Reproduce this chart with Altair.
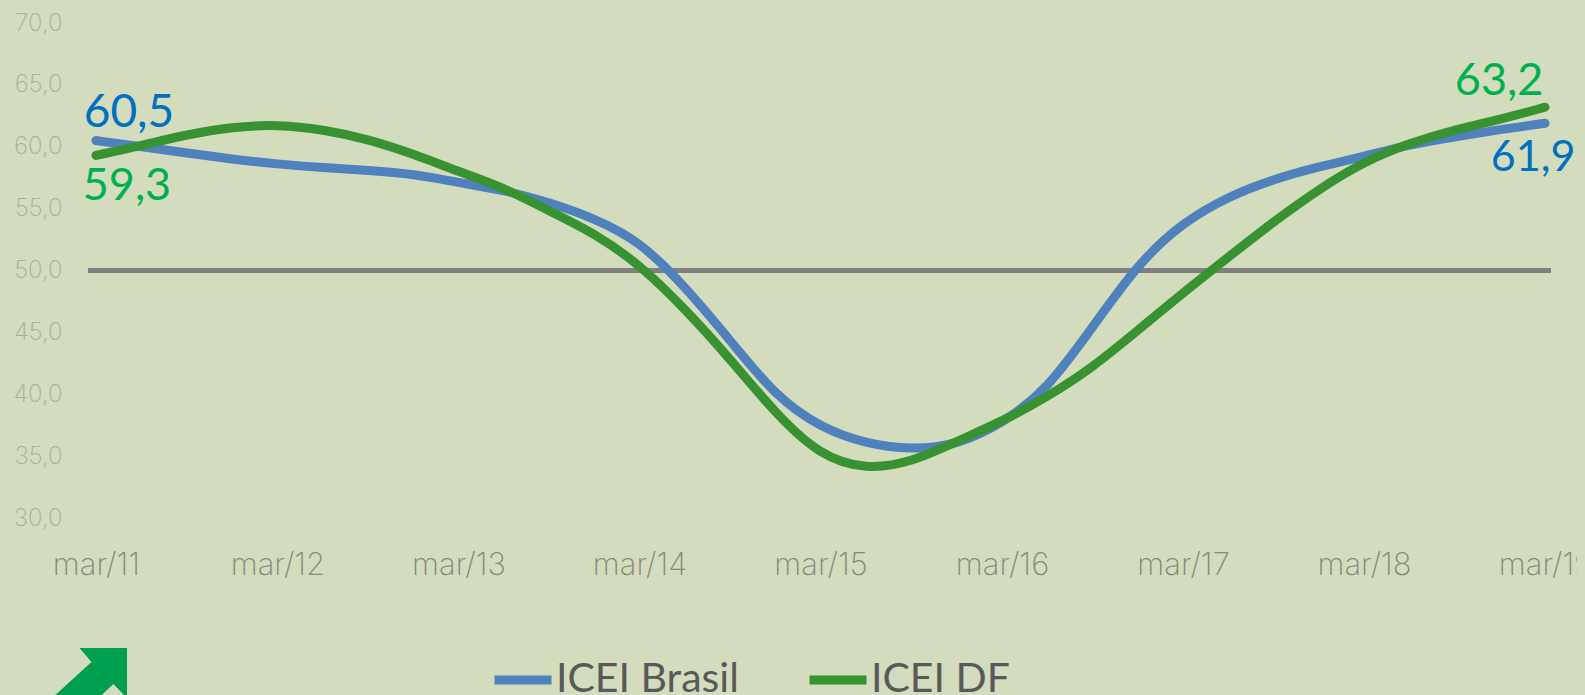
import altair as alt
import pandas as pd

BG = "#d3dcbd"
dates = [f"{2011 + i // 4}-{[3, 6, 9, 12][i % 4]:02d}-01T00:00:00" for i in range(33)]
brasil = [60.5, 60.0, 59.5, 59.0, 58.6, 58.3, 58.1, 57.8, 57.1, 56.5, 55.5, 54.2, 52.4, 48.7, 44.3, 39.8, 37.3,
          36.0, 35.5, 35.9, 37.6, 40.4, 45.5, 50.6, 53.9, 56.0, 57.4, 58.4, 59.2, 60.2, 60.8, 61.4, 61.9]
df_vals = [59.3, 60.1, 61.0, 61.6, 61.8, 61.4, 60.6, 59.4, 58.0, 56.7, 54.8, 53.0, 50.5, 46.9, 42.8, 38.4, 35.0,
           33.9, 34.5, 36.2, 37.8, 39.8, 42.2, 45.2, 48.2, 51.1, 54.0, 56.6, 58.8, 60.3, 61.4, 62.2, 63.2]
series_names = ["ICEI Brasil", "ICEI DF"]
series_colors = ["#4f81bd", "#389232"]
years = list(range(2011, 2020))
y_ticks = [30, 35, 40, 45, 50, 55, 60, 65, 70]

data = pd.DataFrame({
    "date": dates * 2,
    "valor": brasil + df_vals,
    "serie": [series_names[0]] * 33 + [series_names[1]] * 33,
})

x_enc = alt.X(
    "date:T",
    scale=alt.Scale(domain=["2011-02-13T00:00:00", "2019-03-13T00:00:00"]),
    axis=alt.Axis(
        values=[alt.DateTime(year=y, month=3, date=1) for y in years],
        format="mar/%y", formatType="time", title=None, domain=False, ticks=False, grid=False,
        labelFont="Inter", labelFontWeight=200, labelFontSize=31, labelColor="#858a7a",
        labelPadding=32, labelOverlap=False, labelFlush=False, labelBound=False,
    ),
)
y_enc = alt.Y(
    "valor:Q",
    scale=alt.Scale(domain=[30, 70], nice=False, zero=False),
    axis=alt.Axis(
        values=y_ticks, title=None, domain=False, ticks=False, grid=False,
        labelExpr="replace(format(datum.value, '.1f'), '.', ',')",
        labelFont="Inter", labelFontWeight=200, labelFontSize=24, labelColor="#a9af99",
        labelPadding=26, labelOverlap=False, labelBound=False, labelFlush=False,
    ),
)

lines = alt.Chart(data).mark_line(strokeWidth=9, strokeCap="round", interpolate="basis", clip=False).encode(
    x=x_enc,
    y=y_enc,
    color=alt.Color(
        "serie:N",
        scale=alt.Scale(domain=series_names, range=series_colors),
        legend=alt.Legend(
            title=None, orient="none", direction="horizontal", legendX=402, legendY=624,
            symbolType="stroke", symbolSize=3249, symbolStrokeWidth=9, symbolOpacity=1,
            labelFont="Lato", labelFontSize=41, labelColor="#595959", labelOffset=0, labelLimit=400,
            columns=2, columnPadding=52, symbolOffset=0, padding=0,
        ),
    ),
    order=alt.Order("serie:N"),
)

rule = alt.Chart(pd.DataFrame({"y": [50]})).mark_rule(color="#7f7f7f", strokeWidth=5).encode(y=alt.Y("y:Q"))

lab_data = pd.DataFrame({
    "date": [dates[0], dates[0], dates[-1], dates[-1]],
    "valor": [brasil[0], df_vals[0], df_vals[-1], brasil[-1]],
    "txt": ["60,5", "59,3", "63,2", "61,9"],
})
label_styles = [(33, -28, "#0070c0", 46), (31, 31, "#00b050", 45), (-46, -26, "#00b050", 45), (-12, 35, "#0070c0", 43)]
labels = [
    alt.Chart(lab_data.iloc[[i]]).mark_text(font="Lato", fontSize=fs, dx=dx, dy=dy, color=c, align="center",
                                            baseline="middle").encode(
        x=alt.X("date:T"), y=alt.Y("valor:Q"), text="txt:N")
    for i, (dx, dy, c, fs) in enumerate(label_styles)
]

arrow_path = "M0.54,-0.64 L-0.41,-0.64 L-0.17,-0.36 L-1.2,0.58 L-0.26,0.58 L0.266,0.08 L0.54,0.36 Z"
arrow = alt.Chart(pd.DataFrame({"a": [1]})).mark_point(
    shape=arrow_path, size=10000, filled=True, fill="#009e4f", stroke=None, opacity=1
).encode(x=alt.value(12), y=alt.value(657))

chart = alt.layer(rule, lines, *labels, arrow).properties(
    width=1463, height=495,
    background=BG,
    padding={"left": 80, "top": 15, "right": 26, "bottom": 177},
    autosize=alt.AutoSizeParams(type="none"),
).configure_view(stroke=None)

chart.save("out.html", embed_options={"renderer": "svg", "actions": False,
                                      "defaultStyle": "html, body { background: " + BG + "; }"})
